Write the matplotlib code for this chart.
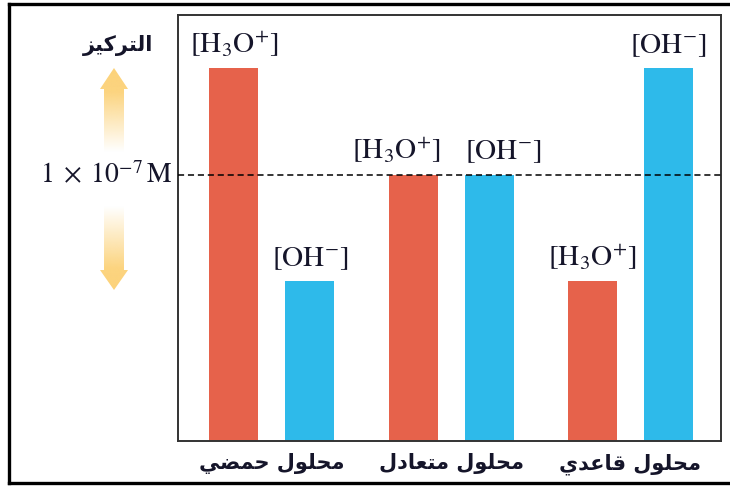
import numpy as np
import matplotlib
matplotlib.use('Agg')
import matplotlib.pyplot as plt
from matplotlib.patches import Polygon

# Data (relative concentration, 1.0 = 1 x 10^-7 M)
categories = ['محلول حمضي', 'محلول متعادل', 'محلول قاعدي']
h3o = [1.4, 1.0, 0.6]
oh = [0.6, 1.0, 1.4]
h3o_label = r'$[\mathrm{H_3O^{\!+}}\!]$'
oh_label = r'$[\mathrm{OH^{\!-}}\!]$'
axis_title = 'التركيز'
neutral_label = r'$1\;\times\;10^{-7}\,\mathrm{M}$'
neutral_level = 1.0

# matplotlib does no Arabic shaping, so pick presentation forms by hand
FORMS = {
    'ا': (0xFE8D, 0xFE8E), 'ر': (0xFEAD, 0xFEAE), 'ز': (0xFEAF, 0xFEB0),
    'و': (0xFEED, 0xFEEE), 'د': (0xFEA9, 0xFEAA),
    'ل': (0xFEDD, 0xFEDE, 0xFEDF, 0xFEE0), 'ت': (0xFE95, 0xFE96, 0xFE97, 0xFE98),
    'ك': (0xFED9, 0xFEDA, 0xFEDB, 0xFEDC), 'ي': (0xFEF1, 0xFEF2, 0xFEF3, 0xFEF4),
    'م': (0xFEE1, 0xFEE2, 0xFEE3, 0xFEE4), 'ح': (0xFEA1, 0xFEA2, 0xFEA3, 0xFEA4),
    'ض': (0xFEBD, 0xFEBE, 0xFEBF, 0xFEC0), 'ع': (0xFEC9, 0xFECA, 0xFECB, 0xFECC),
    'ق': (0xFED5, 0xFED6, 0xFED7, 0xFED8),
}


def shape(text):
    out = []
    for i, ch in enumerate(text):
        if ch not in FORMS:
            out.append(ch)
            continue
        prev = text[i - 1] if i > 0 else ''
        nxt = text[i + 1] if i + 1 < len(text) else ''
        jp = prev in FORMS and len(FORMS[prev]) == 4
        jn = nxt in FORMS and len(FORMS[ch]) == 4
        f = FORMS[ch]
        if jp and jn:
            code = f[3]
        elif jn:
            code = f[2]
        elif jp:
            code = f[1]
        else:
            code = f[0]
        out.append(chr(code))
    return ''.join(out)[::-1]


plt.rcParams['mathtext.fontset'] = 'stix'
red = '#E6624B'
blue = '#2EBAEA'
ink = '#15152a'

fig = plt.figure(figsize=(7.3, 4.87), dpi=100)

# overlay in pixel coords for frame, arrows and left-hand labels
over = fig.add_axes([0, 0, 1, 1])
over.set_xlim(0, 730)
over.set_ylim(487, 0)
over.axis('off')
over.plot([9, 9], [4, 483], color='black', lw=2.4, solid_capstyle='projecting')
over.plot([9, 735], [4, 4], color='black', lw=2.4, solid_capstyle='projecting')
over.plot([9, 735], [483, 483], color='black', lw=2.4, solid_capstyle='projecting')

gold = np.array(matplotlib.colors.to_rgb('#FCD279'))


def grad_arrow(ys, alphas, pts):
    yy = np.linspace(ys[0], ys[1], 200)
    a = np.clip(np.interp(yy, alphas[0], alphas[1]), 0, 1)
    img = np.zeros((200, 1, 4))
    img[:, 0, :3] = gold
    img[:, 0, 3] = a
    poly = Polygon(pts, closed=True, facecolor='none', edgecolor='none')
    over.add_patch(poly)
    im = over.imshow(img, extent=(95, 135, ys[1], ys[0]), origin='upper',
                     aspect='auto', interpolation='bilinear')
    im.set_clip_path(poly)


grad_arrow((66, 156), ([66, 92, 152], [1, 0.95, 0]),
           [(114, 68), (128, 89), (124, 89), (124, 154), (104, 154), (104, 89), (100, 89)])
grad_arrow((204, 292), ([206, 268, 292], [0, 0.95, 1]),
           [(104, 206), (124, 206), (124, 270), (128, 270), (114, 290), (100, 270), (104, 270)])

over.text(118, 46, shape(axis_title), ha='center', va='center', fontsize=15,
          fontweight='bold', family='DejaVu Sans', color=ink)
over.text(106, 175, neutral_label, ha='center', va='center', fontsize=20, color=ink)

# main chart
ax = fig.add_axes([178 / 730, 46 / 487, 543 / 730, 426 / 487])
x = np.arange(len(categories))
off = 0.212
w = 0.273
b1 = ax.bar(x - off, h3o, w, color=red, zorder=2)
b2 = ax.bar(x + off, oh, w, color=blue, zorder=2)
ax.axhline(neutral_level, color='black', lw=1.1, ls=(0, (4, 2.5)), zorder=3)

# the two labels over the neutral pair are pushed apart a little
nudge = [[0, -12, 0], [0, 10, 0]]
for k, (bars, lab) in enumerate(((b1, h3o_label), (b2, oh_label))):
    for i, r in enumerate(bars):
        ax.annotate(lab, (r.get_x() + r.get_width() / 2, r.get_height()),
                    xytext=(nudge[k][i], 11), textcoords='offset points', ha='center',
                    va='baseline', fontsize=21, color=ink)

ax.set_xlim(-0.524, 2.505)
ax.set_ylim(0, 1.6)
ax.set_yticks([])
ax.set_xticks(x)
ax.set_xticklabels([shape(c) for c in categories], fontsize=15, fontweight='bold',
                   family='DejaVu Sans', color=ink)
ax.tick_params(axis='x', length=0, pad=9)
for s in ax.spines.values():
    s.set_linewidth(1.4)
    s.set_color('#333333')

fig.savefig('out.png', dpi=100)
